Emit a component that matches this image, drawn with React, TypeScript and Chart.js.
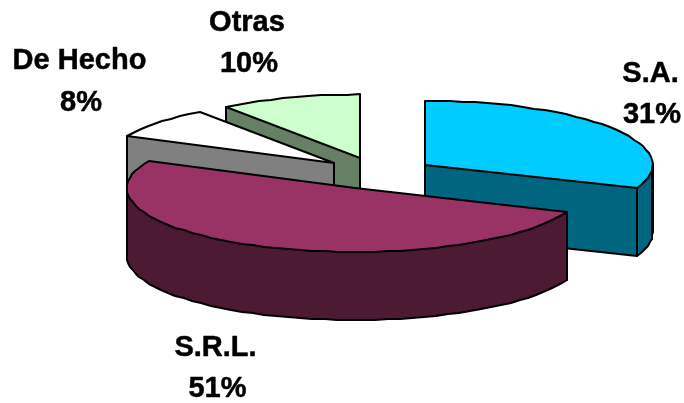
import React, { useEffect, useRef } from "react";
import { Chart, registerables } from "chart.js";

Chart.register(...registerables);

const categories = ["S.A.", "S.R.L.", "De Hecho", "Otras"];
const shares = [31, 51, 8, 10];
const topColors = ["#00CCFF", "#993366", "#FFFFFF", "#CCFFCC"];
const sideColors = ["#00667F", "#4D1A33", "#808080", "#668066"];

const TILT = 0.28;
const DEPTH = 68;
const EXPLODE = 57;
const RADIUS = 228;
const DRAW_ORDER = [3, 2, 0, 1];
const LABEL_SPOTS = [
  { x1: 650.5, x2: 652, y1: 82, y2: 123 },
  { x1: 215.5, x2: 217.5, y1: 356, y2: 397 },
  { x1: 79.5, x2: 81, y1: 69, y2: 111 },
  { x1: 247, x2: 249, y1: 31, y2: 72 },
];

type P = { x: number; y: number };

const tiltedPiePlugin = {
  id: "tiltedPie",
  beforeDatasetsDraw(chart: any) {
    const ctx: CanvasRenderingContext2D = chart.ctx;
    const arcs = chart.getDatasetMeta(0).data;
    ctx.save();
    ctx.lineJoin = "round";
    ctx.lineCap = "round";
    ctx.lineWidth = 2;
    ctx.strokeStyle = "#000";

    for (const i of DRAW_ORDER) {
      const arc = arcs[i];
      const mid = (arc.startAngle + arc.endAngle) / 2;
      const cx = arc.x + EXPLODE * Math.cos(mid);
      const cy = arc.y + EXPLODE * Math.sin(mid) * TILT;
      const steps = Math.max(6, Math.round((arc.endAngle - arc.startAngle) * 18));
      const pts: P[] = [{ x: Math.round(cx), y: Math.round(cy) }];
      for (let s = 0; s <= steps; s++) {
        const a = arc.startAngle + ((arc.endAngle - arc.startAngle) * s) / steps;
        pts.push({
          x: Math.round(cx + arc.outerRadius * Math.cos(a)),
          y: Math.round(cy + arc.outerRadius * Math.sin(a) * TILT),
        });
      }

      // side walls: edges running right-to-left on screen face the viewer
      const n = pts.length;
      const isFront = (e: number) => pts[(e + 1) % n].x - pts[e].x < 0;
      for (let e = 0; e < n; e++) {
        if (!isFront(e) || isFront((e - 1 + n) % n)) continue;
        const run: P[] = [pts[e]];
        const seams: P[] = [pts[e]];
        let k = e;
        while (isFront(k % n)) {
          const idx = (k + 1) % n;
          run.push(pts[idx]);
          if (idx === n - 1 || idx === 1 || idx === 0) seams.push(pts[idx]);
          k++;
        }
        seams.push(run[run.length - 1]);
        ctx.beginPath();
        run.forEach((p, j) => (j ? ctx.lineTo(p.x, p.y) : ctx.moveTo(p.x, p.y)));
        for (let j = run.length - 1; j >= 0; j--) ctx.lineTo(run[j].x, run[j].y + DEPTH);
        ctx.closePath();
        ctx.fillStyle = sideColors[i];
        ctx.fill();
        ctx.beginPath();
        run.forEach((p, j) =>
          j ? ctx.lineTo(p.x, p.y + DEPTH) : ctx.moveTo(p.x, p.y + DEPTH)
        );
        ctx.stroke();
        for (const v of seams) {
          ctx.beginPath();
          ctx.moveTo(v.x, v.y);
          ctx.lineTo(v.x, v.y + DEPTH);
          ctx.stroke();
        }
      }

      // top face
      ctx.beginPath();
      pts.forEach((p, k) => (k ? ctx.lineTo(p.x, p.y) : ctx.moveTo(p.x, p.y)));
      ctx.closePath();
      ctx.fillStyle = topColors[i];
      ctx.fill();
      ctx.stroke();
    }

    // data labels
    ctx.fillStyle = "#000";
    ctx.textAlign = "center";
    ctx.textBaseline = "alphabetic";
    ctx.font = 'bold 29px "Liberation Sans", Arial, sans-serif';
    ctx.lineWidth = 0.5;
    categories.forEach((name, i) => {
      const spot = LABEL_SPOTS[i];
      const pct = `${shares[i]}%`;
      ctx.fillText(name, spot.x1, spot.y1);
      ctx.strokeText(name, spot.x1, spot.y1);
      ctx.fillText(pct, spot.x2, spot.y2);
      ctx.strokeText(pct, spot.x2, spot.y2);
    });
    ctx.restore();
    return false;
  },
};

export default function App() {
  const ref = useRef<HTMLCanvasElement | null>(null);
  useEffect(() => {
    const chart = new Chart(ref.current as HTMLCanvasElement, {
      type: "pie",
      data: {
        labels: categories,
        datasets: [{ data: shares, backgroundColor: topColors, offset: EXPLODE, borderColor: "#000", borderWidth: 2 }],
      },
      options: {
        responsive: false,
        animation: false,
        radius: RADIUS,
        layout: { padding: { left: 71, bottom: 56 } },
        plugins: { legend: { display: false }, tooltip: { enabled: false } },
      },
      plugins: [tiltedPiePlugin],
    } as any);
    return () => chart.destroy();
  }, []);
  return (
    <div style={{ position: "absolute", left: 0, top: 0, width: 684, height: 403, background: "#fff" }}>
      <canvas ref={ref} width={684} height={403} style={{ display: "block" }} />
    </div>
  );
}
